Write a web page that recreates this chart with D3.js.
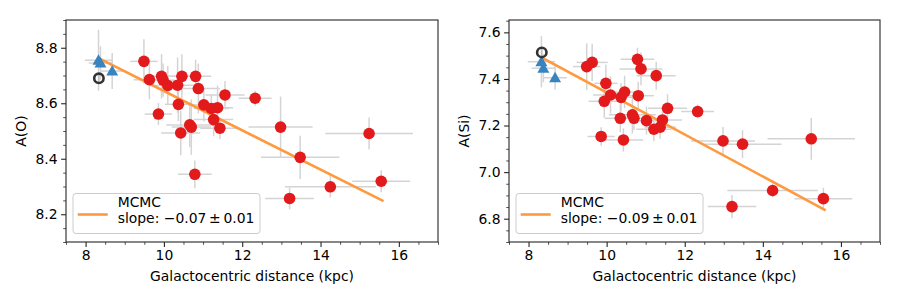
<!DOCTYPE html>
<html>
<head>
<meta charset="utf-8">
<script src="https://cdn.jsdelivr.net/npm/d3@7"></script>
<style>
  html, body { margin: 0; padding: 0; background: #fff; }
  svg { display: block; font-family: "DejaVu Sans", sans-serif; }
</style>
</head>
<body>
<svg id="chart" width="900" height="300"></svg>
<script>
// ---- data ----
const distance = [9.49, 9.63, 9.86, 9.94, 9.98, 10.10, 10.35, 10.37, 10.43, 10.46, 10.66, 10.70, 10.79, 10.81,
                  10.88, 11.02, 11.21, 11.27, 11.37, 11.43, 11.56, 12.33, 12.98, 13.21, 13.48, 14.25, 15.24, 15.55];
const distanceErr = [0.35, 0.4, 0.35, 0.4, 0.3, 0.45, 0.4, 0.35, 0.5, 0.4, 0.6, 0.5, 0.43, 0.4,
                     0.55, 0.4, 0.45, 0.5, 0.4, 0.5, 0.5, 0.42, 0.82, 0.62, 1.0, 1.16, 1.12, 0.74];
const abundO = [8.751, 8.685, 8.561, 8.697, 8.683, 8.664, 8.665, 8.596, 8.493, 8.697, 8.522, 8.514, 8.344, 8.697,
                8.653, 8.594, 8.581, 8.541, 8.584, 8.510, 8.630, 8.618, 8.514, 8.257, 8.405, 8.299, 8.491, 8.319];
const abundOErr = [0.08, 0.07, 0.04, 0.08, 0.06, 0.07, 0.1, 0.06, 0.08, 0.08, 0.08, 0.1, 0.05, 0.06,
                   0.09, 0.06, 0.05, 0.06, 0.08, 0.04, 0.05, 0.027, 0.11, 0.039, 0.078, 0.039, 0.058, 0.04];
const abundSi = [7.453, 7.471, 7.153, 7.304, 7.381, 7.331, 7.231, 7.321, 7.138, 7.344, 7.246, 7.231, 7.484, 7.328,
                 7.443, 7.221, 7.184, 7.414, 7.193, 7.224, 7.274, 7.260, 7.134, 6.852, 7.120, 6.921, 7.143, 6.886];
const abundSiErr = [0.1, 0.08, 0.04, 0.07, 0.08, 0.08, 0.06, 0.06, 0.05, 0.07, 0.08, 0.05, 0.05, 0.06,
                    0.07, 0.06, 0.05, 0.06, 0.05, 0.05, 0.06, 0.03, 0.06, 0.05, 0.06, 0.03, 0.09, 0.047];

// reference objects (triangles)
const refDistance = [8.33, 8.38, 8.68];
const refDistanceErr = [0.35, 0.3, 0.3];
const refO = [8.755, 8.745, 8.716];
const refOErr = [0.11, 0.06, 0.065];
const refSi = [7.474, 7.446, 7.405];
const refSiErr = [0.11, 0.06, 0.05];

// Sun
const sunDistance = [8.34];
const sunO = [8.69];
const sunSi = [7.514];

// MCMC fits
const fitSlopes = [-0.0707, -0.0902];
const fitIntercepts = [9.351, 8.244];
const fitRange = [8.33, 15.58];
const fitLabels = ["slope: \u22120.07\u2009\u00b1\u20090.01", "slope: \u22120.09\u2009\u00b1\u20090.01"];

const xTicks = [8, 10, 12, 14, 16];
const yTicksO = [8.2, 8.4, 8.6, 8.8];
const yTicksSi = [6.8, 7.0, 7.2, 7.4, 7.6];
const yLabels = ["A(O)", "A(Si)"];

// ---- drawing ----
const svg = d3.select("#chart");
const FONT = 13.9;

const panels = [
  { left: 66, right: 438, top: 20, bottom: 242, yDomain: [8.1, 8.9], ys: abundO, yErr: abundOErr,
    refY: refO, refYErr: refOErr, sunY: sunO, yTicks: yTicksO, yMinorStep: 0.05, yLabelX: 21 },
  { left: 509, right: 880, top: 20, bottom: 242, yDomain: [6.70, 7.653], ys: abundSi, yErr: abundSiErr,
    refY: refSi, refYErr: refSiErr, sunY: sunSi, yTicks: yTicksSi, yMinorStep: 0.05, yLabelX: 464 }
];

panels.forEach((p, pi) => {
  const x = d3.scaleLinear().domain([7.5, 17.0]).range([p.left, p.right]);
  const y = d3.scaleLinear().domain(p.yDomain).range([p.bottom, p.top]);
  const g = svg.append("g");

  const errColor = "#d4d4d4";
  const errW = 1.5;

  // error bars: main sample
  distance.forEach((d, i) => {
    g.append("line").attr("x1", x(d - distanceErr[i])).attr("x2", x(d + distanceErr[i]))
      .attr("y1", y(p.ys[i])).attr("y2", y(p.ys[i])).attr("stroke", errColor).attr("stroke-width", errW);
    g.append("line").attr("x1", x(d)).attr("x2", x(d))
      .attr("y1", y(p.ys[i] - p.yErr[i])).attr("y2", y(p.ys[i] + p.yErr[i])).attr("stroke", errColor).attr("stroke-width", errW);
  });
  refDistance.forEach((d, i) => {
    g.append("line").attr("x1", x(d - refDistanceErr[i])).attr("x2", x(d + refDistanceErr[i]))
      .attr("y1", y(p.refY[i])).attr("y2", y(p.refY[i])).attr("stroke", errColor).attr("stroke-width", errW);
    g.append("line").attr("x1", x(d)).attr("x2", x(d))
      .attr("y1", y(p.refY[i] - p.refYErr[i])).attr("y2", y(p.refY[i] + p.refYErr[i])).attr("stroke", errColor).attr("stroke-width", errW);
  });

  // fit line
  const fx = fitRange;
  g.append("line")
    .attr("x1", x(fx[0])).attr("y1", y(fitIntercepts[pi] + fitSlopes[pi] * fx[0]))
    .attr("x2", x(fx[1])).attr("y2", y(fitIntercepts[pi] + fitSlopes[pi] * fx[1]))
    .attr("stroke", "#ff993e").attr("stroke-width", 2.6).attr("stroke-linecap", "square");

  // points
  g.selectAll("circle.pt").data(distance).enter().append("circle")
    .attr("class", "pt")
    .attr("cx", d => x(d)).attr("cy", (d, i) => y(p.ys[i]))
    .attr("r", 5.8).attr("fill", "#e31a1c");

  const tri = d3.symbol().type(d3.symbolTriangle).size(62);
  g.selectAll("path.ref").data(refDistance).enter().append("path")
    .attr("class", "ref")
    .attr("d", tri)
    .attr("transform", (d, i) => `translate(${x(d)},${y(p.refY[i]) + 1})`)
    .attr("fill", "#3784c0");

  // Sun
  sunDistance.forEach((d, i) => {
    g.append("line").attr("x1", x(d)).attr("x2", x(d))
      .attr("y1", y(p.sunY[i]) - 3.2).attr("y2", y(p.sunY[i]) + 3.2)
      .attr("stroke", "#bdbdbd").attr("stroke-width", 1.4);
    g.append("circle").attr("cx", x(d)).attr("cy", y(p.sunY[i])).attr("r", 4.7)
      .attr("fill", "none").attr("stroke", "#333").attr("stroke-width", 2.6);
  });

  // frame
  g.append("rect").attr("x", p.left).attr("y", p.top)
    .attr("width", p.right - p.left).attr("height", p.bottom - p.top)
    .attr("fill", "none").attr("stroke", "#262626").attr("stroke-width", 1.1);

  // x axis
  const xMinor = d3.range(7.5, 17.01, 0.5).filter(v => xTicks.indexOf(v) < 0);
  const xAxis = d3.axisBottom(x).tickValues(xTicks).tickFormat(d3.format("d")).tickSize(4.9).tickPadding(3.5);
  const xa = g.append("g").attr("transform", `translate(0,${p.bottom})`).call(xAxis);
  xa.select(".domain").remove();
  xa.selectAll(".tick line").attr("stroke", "#262626").attr("stroke-width", 1.1);
  xa.selectAll(".tick text").attr("font-size", FONT).attr("fill", "#000")
    .attr("font-family", "DejaVu Sans");
  const xm = g.append("g").attr("transform", `translate(0,${p.bottom})`)
    .call(d3.axisBottom(x).tickValues(xMinor).tickFormat("").tickSize(2.8));
  xm.select(".domain").remove();
  xm.selectAll(".tick line").attr("stroke", "#262626").attr("stroke-width", 0.8);

  // y axis
  const yAxis = d3.axisLeft(y).tickValues(p.yTicks).tickFormat(d3.format(".1f")).tickSize(4.9).tickPadding(3.5);
  const ya = g.append("g").attr("transform", `translate(${p.left},0)`).call(yAxis);
  ya.select(".domain").remove();
  ya.selectAll(".tick line").attr("stroke", "#262626").attr("stroke-width", 1.1);
  ya.selectAll(".tick text").attr("font-size", FONT).attr("fill", "#000")
    .attr("font-family", "DejaVu Sans");
  const yStart = Math.ceil(p.yDomain[0] / p.yMinorStep - 1e-6) * p.yMinorStep;
  const yMinor = d3.range(yStart, p.yDomain[1] + 1e-6, p.yMinorStep)
    .filter(v => !p.yTicks.some(t => Math.abs(t - v) < 1e-6));
  const ym = g.append("g").attr("transform", `translate(${p.left},0)`)
    .call(d3.axisLeft(y).tickValues(yMinor).tickFormat("").tickSize(2.8));
  ym.select(".domain").remove();
  ym.selectAll(".tick line").attr("stroke", "#262626").attr("stroke-width", 0.8);

  // axis labels
  g.append("text").attr("x", (p.left + p.right) / 2).attr("y", 281)
    .attr("text-anchor", "middle").attr("font-size", FONT).attr("fill", "#000")
    .text("Galactocentric distance (kpc)");
  g.append("text")
    .attr("transform", `translate(${p.yLabelX + 5},${(p.top + p.bottom) / 2}) rotate(-90)`)
    .attr("text-anchor", "middle").attr("font-size", FONT).attr("fill", "#000")
    .text(yLabels[pi]);

  // legend
  const lx = p.left + 7, ly = 193.5;
  g.append("rect").attr("x", lx).attr("y", ly).attr("width", 187).attr("height", 40)
    .attr("rx", 3).attr("ry", 3)
    .attr("fill", "#fff").attr("fill-opacity", 0.8).attr("stroke", "#cccccc").attr("stroke-width", 1);
  g.append("line").attr("x1", lx + 4.7).attr("x2", lx + 34.7).attr("y1", 214.5).attr("y2", 214.5)
    .attr("stroke", "#ff993e").attr("stroke-width", 2.6);
  g.append("text").attr("x", lx + 44.7).attr("y", 207).attr("font-size", FONT).attr("fill", "#000").text("MCMC");
  g.append("text").attr("x", lx + 44.7).attr("y", 223).attr("font-size", FONT).attr("fill", "#000").text(fitLabels[pi]);
});
</script>
</body>
</html>
